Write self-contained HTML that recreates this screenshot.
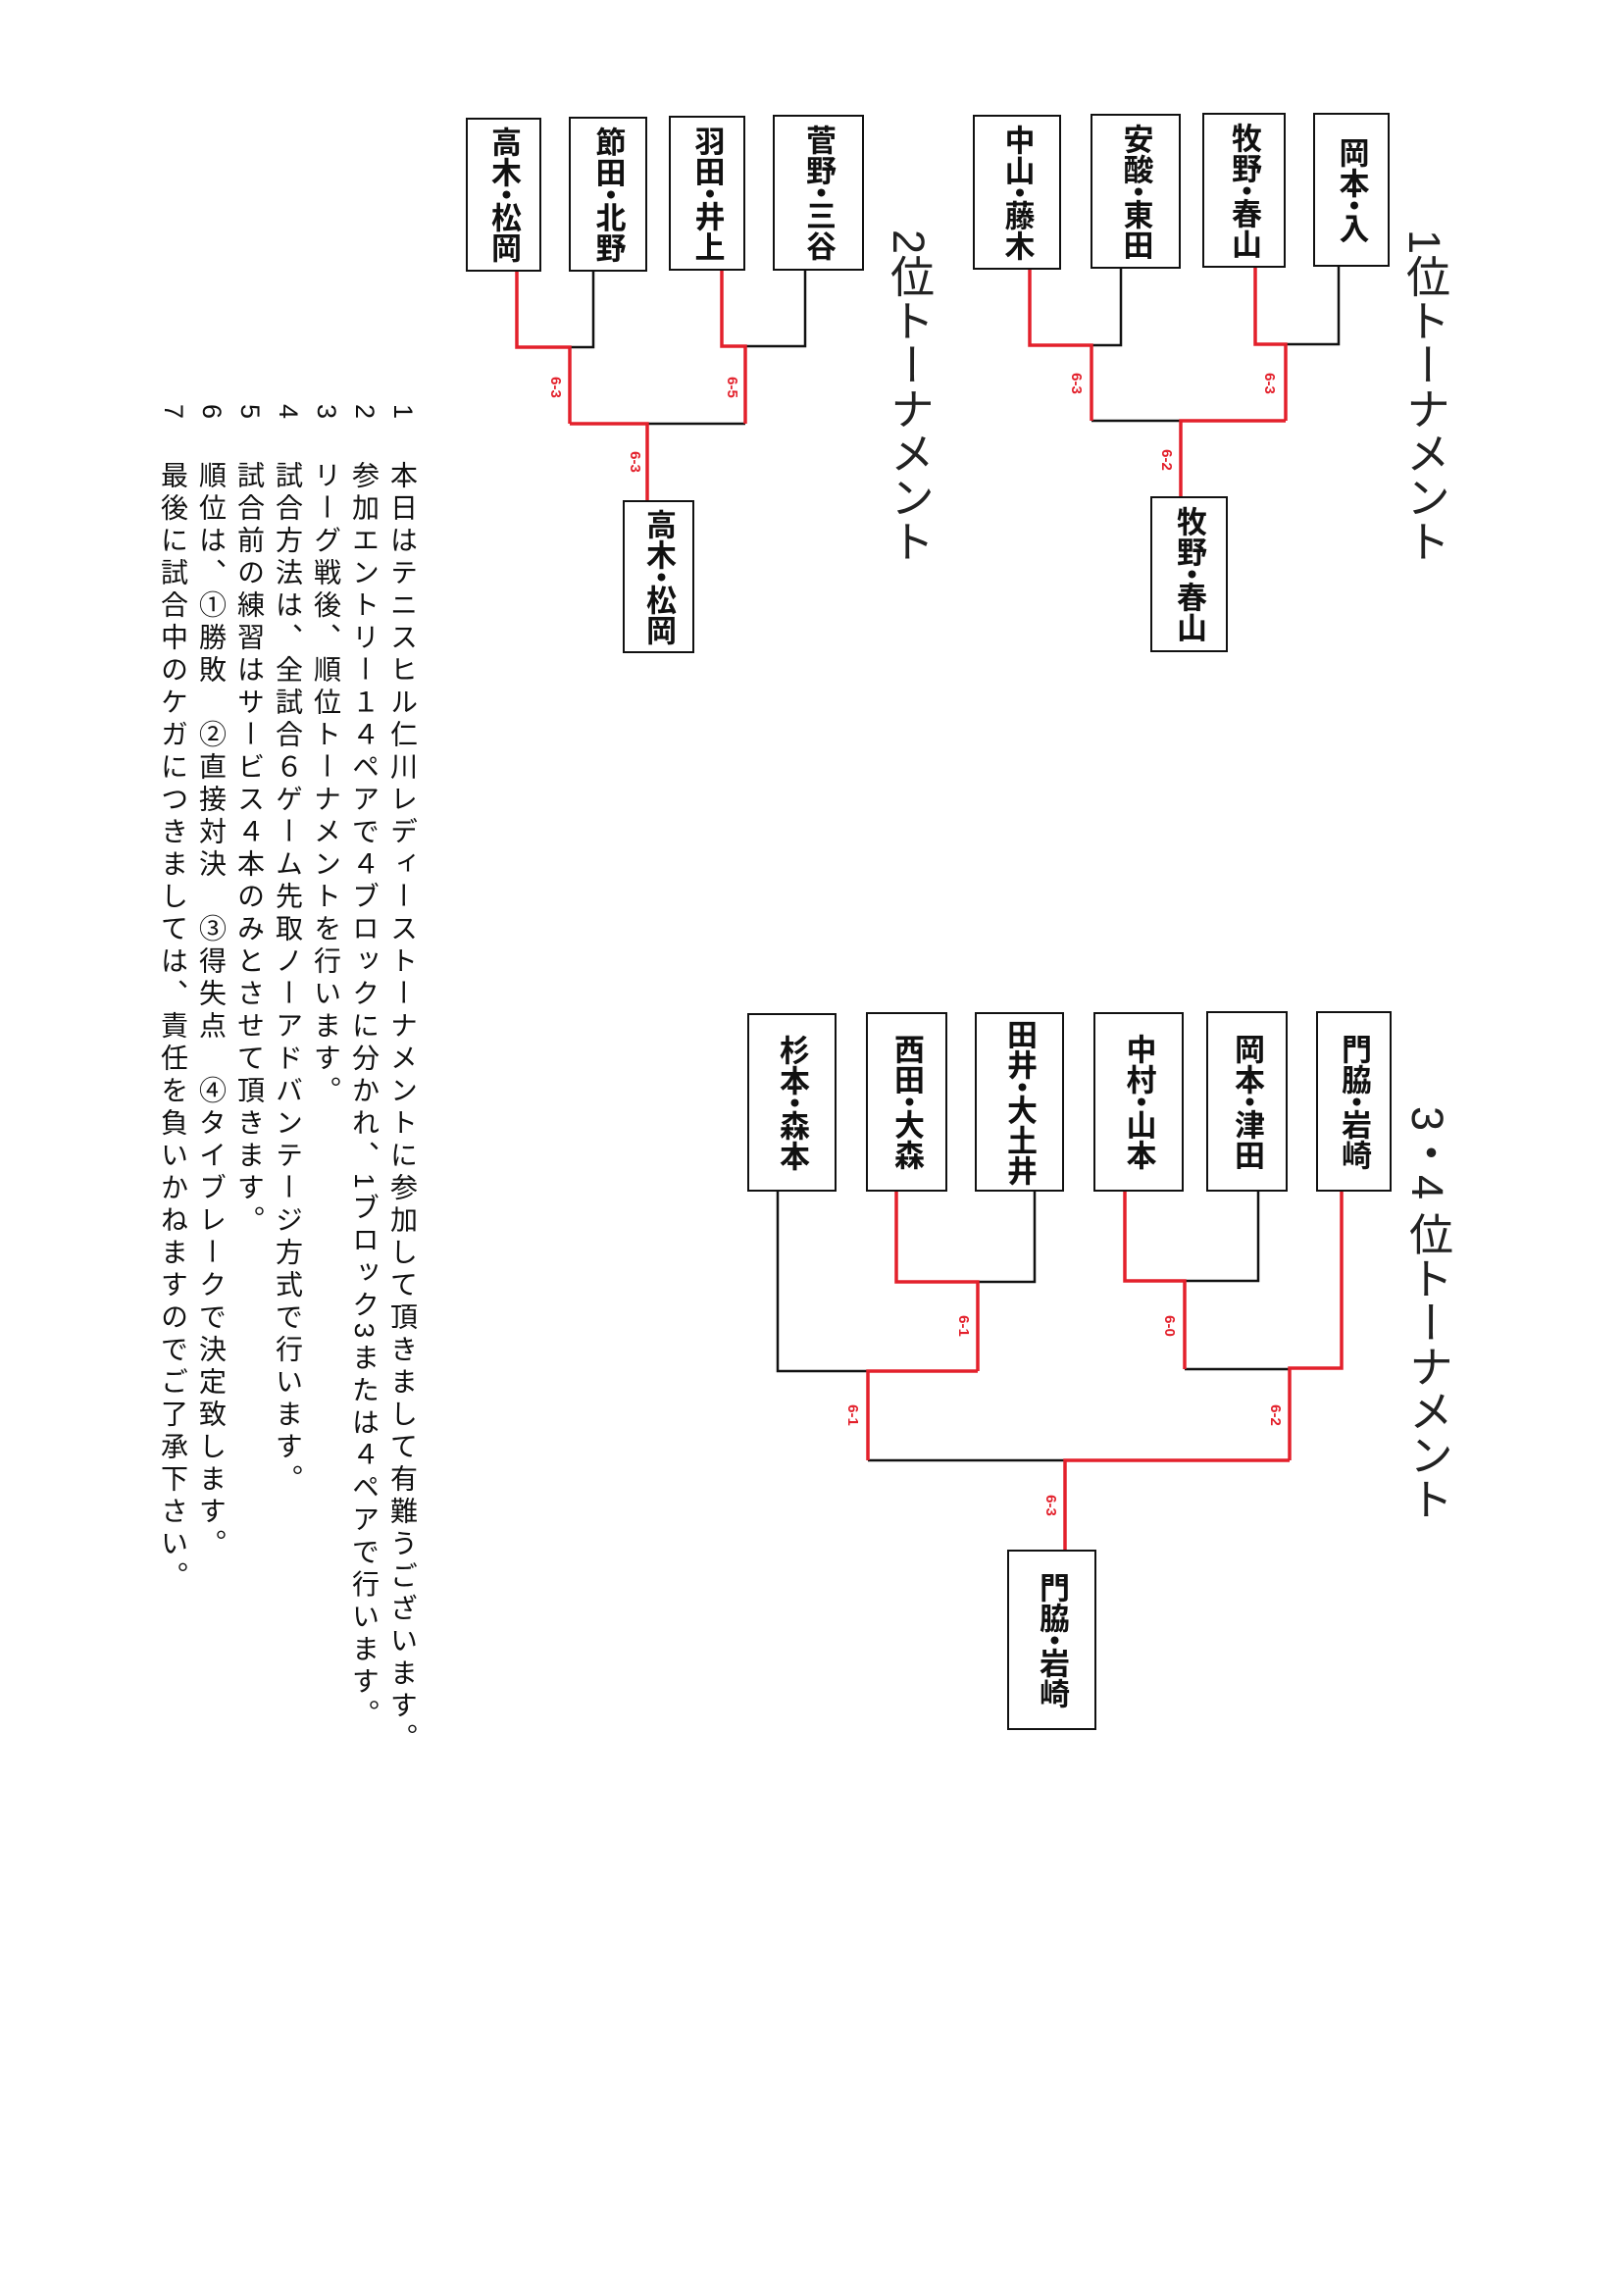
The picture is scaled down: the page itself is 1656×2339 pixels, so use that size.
<!DOCTYPE html>
<html><head><meta charset="utf-8">
<style>
html,body{margin:0;padding:0;background:#fff;}
body{width:1656px;height:2339px;position:relative;overflow:hidden;font-family:"Liberation Sans","Noto Sans CJK JP",sans-serif;}
.b{position:absolute;box-sizing:border-box;border:2.5px solid #111;display:flex;align-items:center;justify-content:center;writing-mode:vertical-rl;font-weight:bold;font-size:31px;color:#111;letter-spacing:0;white-space:nowrap;line-height:1;}
.b span{display:inline-block;margin:-8px 0;}
.t{position:absolute;writing-mode:vertical-rl;font-size:45px;color:#222;line-height:1;white-space:nowrap;}
.n{position:absolute;writing-mode:vertical-rl;font-size:28px;letter-spacing:5px;color:#111;line-height:1;white-space:nowrap;}
.num{position:absolute;writing-mode:vertical-rl;font-size:27px;color:#111;line-height:1;}
svg{position:absolute;left:0;top:0;}
</style></head><body>
<svg width="1656" height="2339" viewBox="0 0 1656 2339" fill="none">
<g stroke="#111" stroke-width="2.5">
<path d="M1365 272V351H1311M1143 274V352H1113M1113 429H1204"/>
<path d="M605 277V354H581M821 276V353H760M660 432H760"/>
<path d="M1283 1215V1306H1208M1208 1396H1315M1055 1215V1307H997M793 1215V1398H885M885 1489H1086"/>
</g>
<g stroke="#e3202b" stroke-width="3.5">
<path d="M1280 273V351H1311V429M1050 275V352H1113V429M1311 429H1204V506"/>
<path d="M527 277V354H581V432M736 276V353H760V432M581 432H660V510"/>
<path d="M1147 1215V1306H1208V1396M1368 1215V1395H1315V1489M914 1215V1307H997V1398M997 1398H885V1489M1315 1489H1086V1580"/>
</g>
<g fill="#e3202b" font-family="Liberation Sans, sans-serif" font-weight="bold" font-size="15" text-anchor="middle">
<text transform="translate(1290 391) rotate(90)">6-3</text>
<text transform="translate(1093 391) rotate(90)">6-3</text>
<text transform="translate(1185 469) rotate(90)">6-2</text>
<text transform="translate(562 395) rotate(90)">6-3</text>
<text transform="translate(742 395) rotate(90)">6-5</text>
<text transform="translate(643 471) rotate(90)">6-3</text>
<text transform="translate(1188 1352) rotate(90)">6-0</text>
<text transform="translate(978 1352) rotate(90)">6-1</text>
<text transform="translate(1296 1443) rotate(90)">6-2</text>
<text transform="translate(865 1443) rotate(90)">6-1</text>
<text transform="translate(1067 1535) rotate(90)">6-3</text>
</g>
</svg>

<div class="t" style="left:1430px;top:234px;">1位トーナメント</div>
<div class="t" style="left:904px;top:234px;">2位トーナメント</div>
<div class="t" style="left:1433px;top:1128px;">3・4 位トーナメント</div>

<div class="b" style="left:1339px;top:115px;width:78px;height:157px;">岡本<span>・</span>入</div>
<div class="b" style="left:1226px;top:115px;width:85px;height:158px;">牧野<span>・</span>春山</div>
<div class="b" style="left:1112px;top:116px;width:92px;height:158px;">安酸<span>・</span>東田</div>
<div class="b" style="left:992px;top:117px;width:90px;height:158px;">中山<span>・</span>藤木</div>
<div class="b" style="left:1173px;top:506px;width:79px;height:159px;">牧野<span>・</span>春山</div>

<div class="b" style="left:788px;top:117px;width:93px;height:159px;">菅野<span>・</span>三谷</div>
<div class="b" style="left:682px;top:118px;width:78px;height:158px;">羽田<span>・</span>井上</div>
<div class="b" style="left:580px;top:119px;width:80px;height:158px;">節田<span>・</span>北野</div>
<div class="b" style="left:475px;top:120px;width:77px;height:157px;">高木<span>・</span>松岡</div>
<div class="b" style="left:635px;top:510px;width:73px;height:156px;">高木<span>・</span>松岡</div>

<div class="b" style="left:1342px;top:1031px;width:77px;height:184px;">門脇<span>・</span>岩崎</div>
<div class="b" style="left:1230px;top:1031px;width:83px;height:184px;">岡本<span>・</span>津田</div>
<div class="b" style="left:1115px;top:1032px;width:92px;height:183px;">中村<span>・</span>山本</div>
<div class="b" style="left:994px;top:1032px;width:91px;height:183px;">田井<span>・</span>大土井</div>
<div class="b" style="left:883px;top:1032px;width:83px;height:183px;">西田<span>・</span>大森</div>
<div class="b" style="left:762px;top:1033px;width:91px;height:182px;">杉本<span>・</span>森本</div>
<div class="b" style="left:1027px;top:1580px;width:91px;height:184px;">門脇<span>・</span>岩崎</div>

<div class="num" style="left:397px;top:412px;">1</div>
<div class="num" style="left:358px;top:412px;">2</div>
<div class="num" style="left:319px;top:412px;">3</div>
<div class="num" style="left:280px;top:412px;">4</div>
<div class="num" style="left:241px;top:412px;">5</div>
<div class="num" style="left:202px;top:412px;">6</div>
<div class="num" style="left:163px;top:412px;">7</div>

<div class="n" style="left:396px;top:470px;">本日はテニスヒル仁川レディーストーナメントに参加して頂きまして有難うございます。</div>
<div class="n" style="left:357px;top:470px;">参加エントリー１４ペアで４ブロックに分かれ、1ブロック3または４ペアで行います。</div>
<div class="n" style="left:318px;top:470px;">リーグ戦後、順位トーナメントを行います。</div>
<div class="n" style="left:279px;top:470px;">試合方法は、全試合６ゲーム先取ノーアドバンテージ方式で行います。</div>
<div class="n" style="left:240px;top:470px;">試合前の練習はサービス４本のみとさせて頂きます。</div>
<div class="n" style="left:201px;top:470px;">順位は、①勝敗　②直接対決　③得失点　④タイブレークで決定致します。</div>
<div class="n" style="left:162px;top:470px;">最後に試合中のケガにつきましては、責任を負いかねますのでご了承下さい。</div>
</body></html>
